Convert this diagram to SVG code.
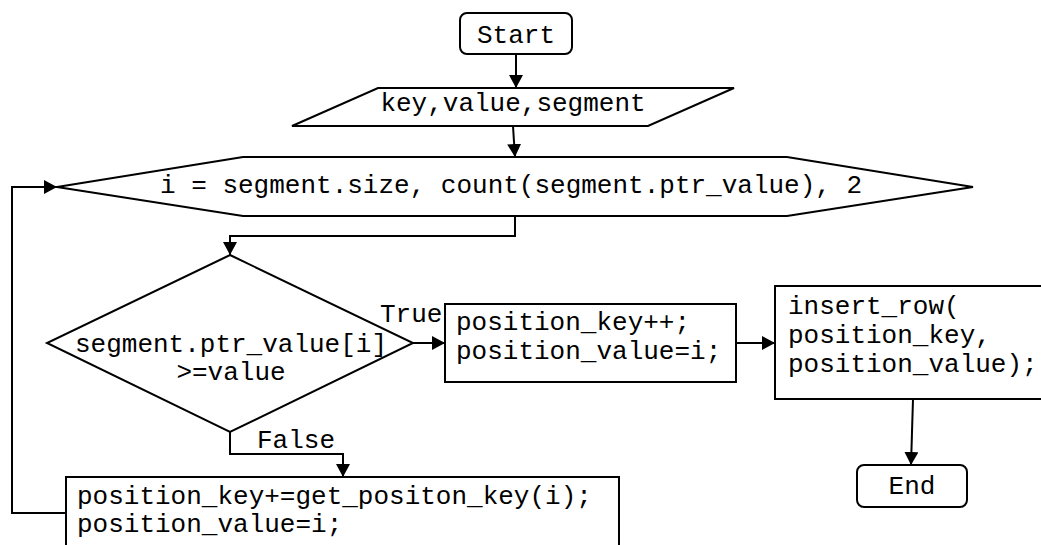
<svg xmlns="http://www.w3.org/2000/svg" width="1041" height="545" viewBox="0 0 1041 545">
<style>
  .shape { fill: #ffffff; stroke: #000000; stroke-width: 2; }
  .edge { fill: none; stroke: #000000; stroke-width: 2; }
  text { font-family: "Liberation Mono", "Courier New", monospace; font-size: 26px; fill: #000000; }
  .c { text-anchor: middle; }
</style>
<defs>
  <marker id="arr" markerUnits="userSpaceOnUse" markerWidth="14" markerHeight="14" refX="13" refY="7" orient="auto">
    <path d="M0,0 L13,7 L0,14 z" fill="#000000"/>
  </marker>
</defs>
<rect width="1041" height="545" fill="#ffffff"/>

<g id="connectors">
  <line class="edge" x1="516" y1="54" x2="516" y2="88" marker-end="url(#arr)"/>
  <line class="edge" x1="513" y1="126" x2="515" y2="157" marker-end="url(#arr)"/>
  <polyline class="edge" points="515,216 515,236 230,236 230,255" marker-end="url(#arr)"/>
  <line class="edge" x1="413" y1="343" x2="445" y2="343" marker-end="url(#arr)"/>
  <text x="380" y="322">True</text>
  <line class="edge" x1="736" y1="343" x2="775" y2="343" marker-end="url(#arr)"/>
  <line class="edge" x1="913" y1="399" x2="911" y2="465" marker-end="url(#arr)"/>
  <polyline class="edge" points="230,432 230,454 343,454 343,477" marker-end="url(#arr)"/>
  <text x="257" y="448">False</text>
  <polyline class="edge" points="66,513 12,513 12,187 57,187" marker-end="url(#arr)"/>
</g>

<g id="start">
  <rect class="shape" x="460" y="13" width="112" height="41" rx="7" ry="7"/>
  <text class="c" x="516" y="43">Start</text>
</g>

<g id="input">
  <polygon class="shape" points="378,88 734,88 648,126 292,126"/>
  <text class="c" x="513" y="111">key,value,segment</text>
</g>

<g id="loop">
  <polygon class="shape" points="57,187 243,157 787,157 973,187 787,216 243,216"/>
  <text x="160" y="193">i = segment.size, count(segment.ptr_value), 2</text>
</g>

<g id="decision">
  <polygon class="shape" points="230,255 413,343 230,432 47,343"/>
  <text class="c" x="231" y="352">segment.ptr_value[i]</text>
  <text class="c" x="231" y="380">&gt;=value</text>
</g>

<g id="true-step">
  <rect class="shape" x="445" y="304" width="291" height="78"/>
  <text x="456" y="330">position_key++;</text>
  <text x="456" y="359">position_value=i;</text>
</g>

<g id="insert">
  <rect class="shape" x="775" y="286" width="280" height="113"/>
  <text x="788" y="314">insert_row(</text>
  <text x="788" y="343">position_key,</text>
  <text x="788" y="372">position_value);</text>
</g>

<g id="end">
  <rect class="shape" x="857" y="465" width="110" height="42" rx="7" ry="7"/>
  <text class="c" x="912" y="494">End</text>
</g>

<g id="false-step">
  <rect class="shape" x="66" y="477" width="553" height="90"/>
  <text x="77" y="504">position_key+=get_positon_key(i);</text>
  <text x="77" y="532">position_value=i;</text>
</g>
</svg>
